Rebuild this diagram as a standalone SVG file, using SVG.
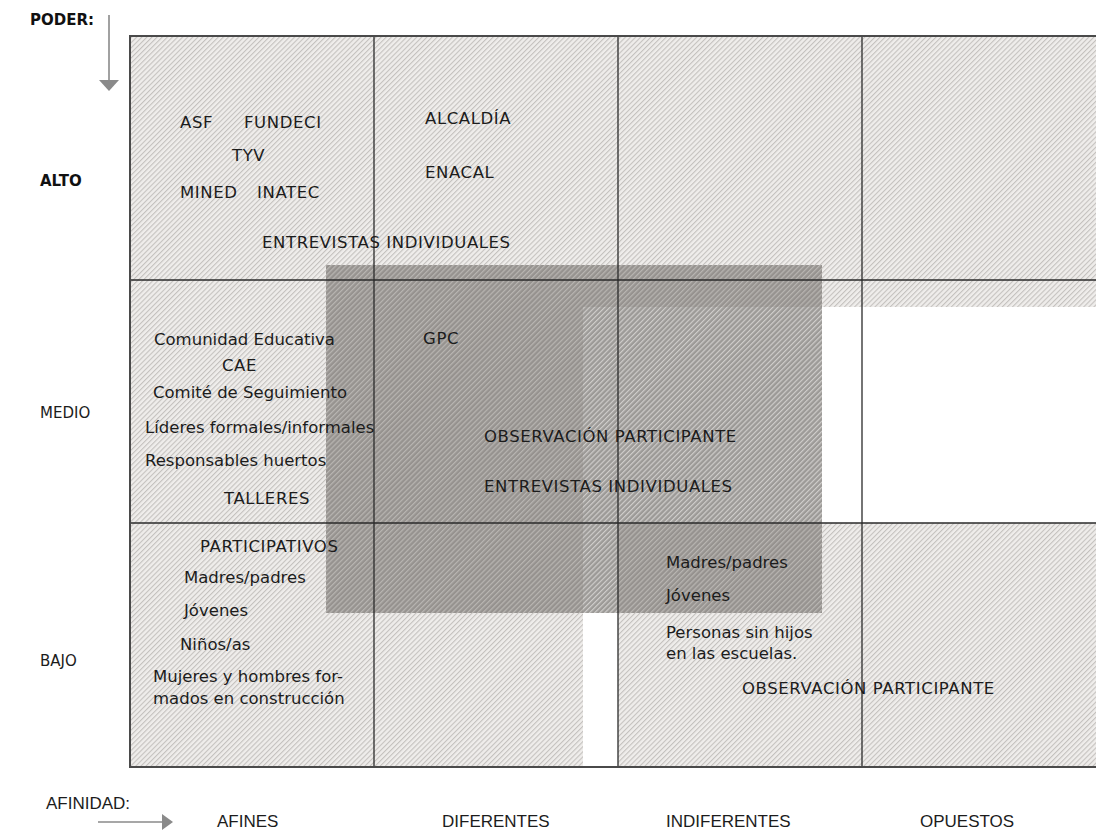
<svg xmlns="http://www.w3.org/2000/svg" width="1096" height="830" viewBox="0 0 1096 830">
<defs>
<pattern id="lightHatch" patternUnits="userSpaceOnUse" width="3.6" height="3.6" patternTransform="rotate(45)">
<rect width="3.6" height="3.6" fill="#efedeb"/>
<rect width="1.1" height="3.6" fill="#c4c1be"/>
</pattern>
<pattern id="darkHatch" patternUnits="userSpaceOnUse" width="3.6" height="3.6" patternTransform="rotate(45)">
<rect width="3.6" height="3.6" fill="#5a5652"/>
<rect width="1.2" height="3.6" fill="#b0ada9"/>
</pattern>
<style>
.t{font-family:"DejaVu Sans","Verdana",sans-serif;font-size:16.5px;fill:#1c1c1c}
.caps{letter-spacing:0.6px}
.ax{font-family:"DejaVu Sans",sans-serif;font-size:15px;fill:#1c1c1c}
.axb{font-family:"DejaVu Sans",sans-serif;font-size:15px;font-weight:bold;fill:#111}
.lab{font-family:"Liberation Sans",Arial,sans-serif;font-size:17px;fill:#1c1c1c}
.grid{stroke:#2a2a2a;stroke-width:1.3;fill:none}
.arrow{stroke:#8a8a8a;stroke-width:1.6;fill:none}
</style>
</defs>
<rect width="1096" height="830" fill="#ffffff"/>

<g id="regions">
<rect x="130" y="36" width="966" height="271" fill="url(#lightHatch)"/>
<rect x="130" y="307" width="453" height="460" fill="url(#lightHatch)"/>
<rect x="618" y="523" width="478" height="244" fill="url(#lightHatch)"/>
<rect x="326" y="265" width="496" height="348" fill="url(#darkHatch)" opacity="0.6"/>
</g>

<g id="connectors">
<line class="grid" x1="130" y1="280" x2="1096" y2="280"/>
<line class="grid" x1="130" y1="523" x2="1096" y2="523"/>
<line class="grid" x1="374" y1="36" x2="374" y2="767"/>
<line class="grid" x1="618" y1="36" x2="618" y2="767"/>
<line class="grid" x1="862" y1="36" x2="862" y2="767"/>
<path d="M1096,36 H130 V767 H1096" stroke="#4a4a4a" stroke-width="2" fill="none"/>
<line class="arrow" x1="109" y1="15" x2="109" y2="81"/>
<polygon points="99,80 119,80 109,91" fill="#8a8a8a"/>
<line class="arrow" x1="98" y1="822" x2="163" y2="822"/>
<polygon points="162,814 173,822 162,830" fill="#8a8a8a"/>
</g>

<g id="axis-labels">
<text class="axb" x="30" y="25" font-size="16">PODER:</text>
<text class="axb" x="40" y="186">ALTO</text>
<text class="ax" x="40" y="418">MEDIO</text>
<text class="ax" x="40" y="666">BAJO</text>
<text class="lab" x="46" y="809">AFINIDAD:</text>
<text class="lab" x="217" y="827">AFINES</text>
<text class="lab" x="442" y="827">DIFERENTES</text>
<text class="lab" x="666" y="827">INDIFERENTES</text>
<text class="lab" x="920" y="827">OPUESTOS</text>
</g>

<g id="node-alto-afines">
<text class="t caps" x="180" y="128">ASF</text>
<text class="t caps" x="244" y="128">FUNDECI</text>
<text class="t caps" x="232" y="161">TYV</text>
<text class="t caps" x="180" y="198">MINED</text>
<text class="t caps" x="257" y="198">INATEC</text>
<text class="t caps" x="262" y="248">ENTREVISTAS INDIVIDUALES</text>
</g>

<g id="node-alto-diferentes">
<text class="t caps" x="425" y="124">ALCALDÍA</text>
<text class="t caps" x="425" y="178">ENACAL</text>
</g>

<g id="node-medio-afines">
<text class="t" x="154" y="345">Comunidad Educativa</text>
<text class="t caps" x="222" y="371">CAE</text>
<text class="t" x="153" y="398">Comité de Seguimiento</text>
<text class="t" x="145" y="433">Líderes formales/informales</text>
<text class="t" x="145" y="466">Responsables huertos</text>
<text class="t caps" x="224" y="504">TALLERES</text>
</g>

<g id="node-medio-diferentes">
<text class="t caps" x="423" y="344">GPC</text>
<text class="t caps" x="484" y="442">OBSERVACIÓN PARTICIPANTE</text>
<text class="t caps" x="484" y="492">ENTREVISTAS INDIVIDUALES</text>
</g>

<g id="node-bajo-afines">
<text class="t caps" x="200" y="552">PARTICIPATIVOS</text>
<text class="t" x="184" y="583">Madres/padres</text>
<text class="t" x="184" y="616">Jóvenes</text>
<text class="t" x="180" y="650">Niños/as</text>
<text class="t" x="153" y="682">Mujeres y hombres for-</text>
<text class="t" x="153" y="704">mados en construcción</text>
</g>

<g id="node-bajo-indiferentes">
<text class="t" x="666" y="568">Madres/padres</text>
<text class="t" x="666" y="601">Jóvenes</text>
<text class="t" x="666" y="638">Personas sin hijos</text>
<text class="t" x="666" y="659">en las escuelas.</text>
<text class="t caps" x="742" y="694">OBSERVACIÓN PARTICIPANTE</text>
</g>
</svg>
